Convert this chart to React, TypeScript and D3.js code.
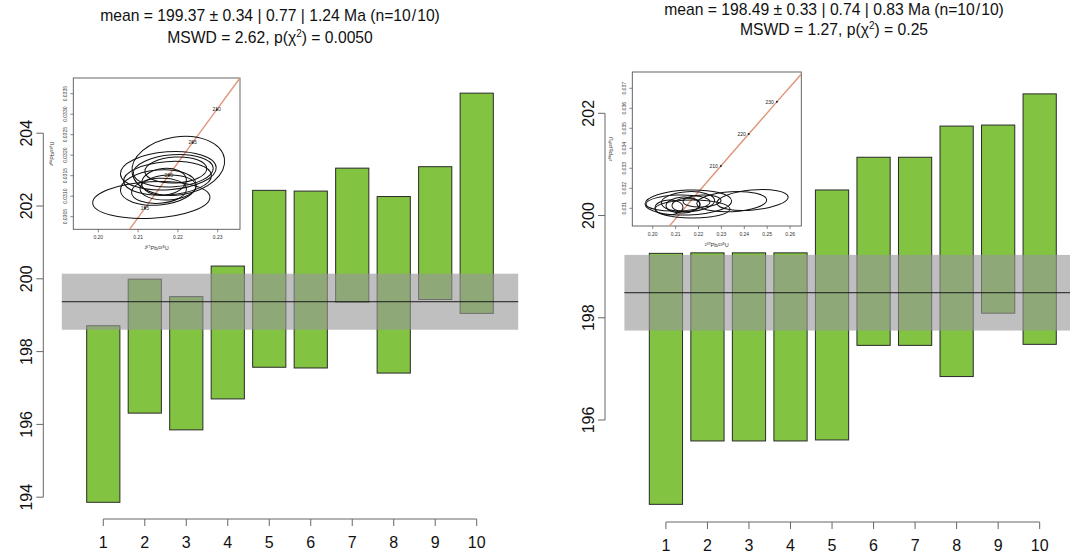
import React from 'react';
import * as d3 from 'd3';

const W = 1070;
const H = 556;

const grains = [1, 2, 3, 4, 5, 6, 7, 8, 9, 10];

// left panel: upper / lower limit of each age bar (Ma)
const leftHi = [198.71, 199.99, 199.51, 200.35, 202.43, 202.41, 203.04, 202.26, 203.08, 205.1];
const leftLo = [193.86, 196.31, 195.85, 196.7, 197.57, 197.55, 199.36, 197.41, 199.43, 199.05];
const leftMean = 199.37;
const leftBand = 0.77;
const leftYTicks = [194, 196, 198, 200, 202, 204];
const leftStats = ['199.37', '0.34', '0.77', '1.24'];
const leftMswd = ['2.62', '0.0050'];

// right panel
const rightHi = [199.26, 199.27, 199.27, 199.27, 200.5, 201.14, 201.14, 201.75, 201.77, 202.38];
const rightLo = [194.35, 195.59, 195.59, 195.59, 195.61, 197.46, 197.46, 196.85, 198.09, 197.48];
const rightMean = 198.49;
const rightBand = 0.74;
const rightYTicks = [196, 198, 200, 202];
const rightStats = ['198.49', '0.33', '0.74', '0.83'];
const rightMswd = ['1.27', '0.25'];

// concordia nodes (age Ma, 207Pb/235U, 206Pb/238U)
const concAge = [185, 190, 195, 200, 205, 210, 215, 220, 225, 230, 235, 240, 245];
const concX = [0.19985, 0.20577, 0.21173, 0.21771, 0.22372, 0.22976, 0.23583, 0.24193, 0.24806, 0.25422, 0.26041, 0.26664, 0.27289];
const concY = [0.029114, 0.029912, 0.030711, 0.031511, 0.032312, 0.033112, 0.033914, 0.034717, 0.035519, 0.036323, 0.037127, 0.037932, 0.038737];

// inset error ellipses, left
const leftEllCx = [0.21332, 0.2201, 0.21759, 0.21884, 0.21947, 0.21508, 0.21525, 0.21651, 0.21739, 0.21751];
const leftEllCy = [0.030907, 0.031741, 0.03162, 0.03162, 0.031639, 0.031212, 0.031132, 0.031354, 0.031437, 0.031212];
const leftEllRx = [0.01475, 0.01173, 0.01206, 0.01005, 0.00779, 0.00955, 0.00691, 0.00565, 0.01106, 0.00704];
const leftEllRy = [0.000446, 0.000707, 0.000463, 0.00039, 0.000317, 0.000427, 0.000305, 0.000324, 0.000407, 0.000305];
const leftEllRot = [-3, -9, -4, -4, -3, -5, -4, -6, -4, -3];
const leftInsetXTicks = [0.2, 0.21, 0.22, 0.23];
const leftInsetYTicks = [0.0305, 0.031, 0.0315, 0.032, 0.0325, 0.033, 0.0335];
const leftAgeLabels = [195, 200, 205, 210];

// inset error ellipses, right
const rightEllCx = [0.24358, 0.21555, 0.21738, 0.21541, 0.21454, 0.21323, 0.20712, 0.2345, 0.22153, 0.21105];
const rightEllCy = [0.031415, 0.03129, 0.030965, 0.03133, 0.031165, 0.031165, 0.03104, 0.03133, 0.031365, 0.031265];
const rightEllRx = [0.01563, 0.01891, 0.01638, 0.01166, 0.00611, 0.00742, 0.00611, 0.01528, 0.0083, 0.01397];
const rightEllRy = [0.0005, 0.000625, 0.00045, 0.0005, 0.000335, 0.0004, 0.000375, 0.0005, 0.0003, 0.0004];
const rightEllRot = [-5, -2, 0, -3, -3, -3, -2, -3, -2, -2];
const rightInsetXTicks = [0.2, 0.21, 0.22, 0.23, 0.24, 0.25, 0.26];
const rightInsetYTicks = [0.031, 0.032, 0.033, 0.034, 0.035, 0.036, 0.037];
const rightAgeLabels = [210, 220, 230];

const FONT = 'Liberation Sans, Arial, sans-serif';
const GREEN = '#82c341';

function Inset({ id, box, xDom, xRng, yDom, yRng, xTicks, yTicks, xFmt, yFmt, ell, ages, labelMode }) {
  const xs = d3.scaleLinear().domain(xDom).range(xRng);
  const ys = d3.scaleLinear().domain(yDom).range(yRng);
  const line = d3.line<number>().x((i) => xs(concX[i])).y((i) => ys(concY[i]));
  const idx = concAge.map((_, i) => i);
  const cx = (box.x0 + box.x1) / 2;
  const cy = (box.y0 + box.y1) / 2;
  return (
    <g fontFamily={FONT}>
      <defs>
        <clipPath id={id}>
          <rect x={box.x0} y={box.y0} width={box.x1 - box.x0} height={box.y1 - box.y0} />
        </clipPath>
      </defs>
      <rect x={box.x0} y={box.y0} width={box.x1 - box.x0} height={box.y1 - box.y0} fill="#fff" stroke="#555" strokeWidth={0.9} />
      <g clipPath={`url(#${id})`}>
        <path d={line(idx) || ''} fill="none" stroke="#e0947a" strokeWidth={1.4} />
        {ell.cx.map((v, i) => {
          const px = xs(v);
          const py = ys(ell.cy[i]);
          const rx = xs(v + ell.rx[i]) - px;
          const ry = py - ys(ell.cy[i] + ell.ry[i]);
          return (
            <ellipse key={i} cx={px} cy={py} rx={rx} ry={ry} fill="none" stroke="#111" strokeWidth={1}
              transform={`rotate(${ell.rot[i]},${px},${py})`} />
          );
        })}
        {ages.map((a) => {
          const i = concAge.indexOf(a);
          const px = xs(concX[i]);
          const py = ys(concY[i]);
          return (
            <g key={a}>
              <circle cx={px} cy={py} r={1} fill="#222" />
              <text x={labelMode === 'center' ? px : px - 3} y={py + 1.8} fontSize={5} fill="#222"
                textAnchor={labelMode === 'center' ? 'middle' : 'end'}>{a}</text>
            </g>
          );
        })}
      </g>
      {xTicks.map((t) => (
        <g key={t}>
          <line x1={xs(t)} x2={xs(t)} y1={box.y1} y2={box.y1 + 3} stroke="#555" strokeWidth={0.7} />
          <text x={xs(t)} y={box.y1 + 10} fontSize={5} textAnchor="middle" fill="#333">{xFmt(t)}</text>
        </g>
      ))}
      {yTicks.map((t) => (
        <g key={t}>
          <line x1={box.x0 - 3} x2={box.x0} y1={ys(t)} y2={ys(t)} stroke="#555" strokeWidth={0.7} />
          <text transform={`translate(${box.x0 - 6},${ys(t)}) rotate(-90)`} fontSize={5} textAnchor="middle" fill="#333">{yFmt(t)}</text>
        </g>
      ))}
      <text x={cx} y={box.y1 + 21} fontSize={5.5} textAnchor="middle" fill="#333">²⁰⁷Pb/²³⁵U</text>
      <text transform={`translate(${box.x0 - 19},${cy}) rotate(-90)`} fontSize={5.5} textAnchor="middle" fill="#333">²⁰⁶Pb/²³⁸U</text>
    </g>
  );
}

function Panel({ hi, lo, mean, band, yTicks, xRange, yDomain, yRange, yAxisX, xAxisY, titleX, titleY, stats, mswd, children }) {
  const x = d3.scaleLinear().domain([0, 11]).range(xRange);
  const y = d3.scaleLinear().domain(yDomain).range(yRange);
  const bw = x(0.8) - x(0);
  return (
    <g fontFamily={FONT}>
      <text x={titleX} y={titleY[0]} fontSize={15.7} textAnchor="middle" fill="#111">
        {`mean = ${stats[0]} ± ${stats[1]} | ${stats[2]} | ${stats[3]} Ma (n=10`}
        <tspan dx={1}>/</tspan>
        <tspan dx={1}>10)</tspan>
      </text>
      <text x={titleX} y={titleY[1]} fontSize={15.7} textAnchor="middle" fill="#111">
        {`MSWD = ${mswd[0]}, p(χ`}
        <tspan dy={-6} fontSize={10}>2</tspan>
        <tspan dy={6}>{`) = ${mswd[1]}`}</tspan>
      </text>

      {grains.map((g, i) => (
        <rect key={g} x={x(g) - bw / 2} y={y(hi[i])} width={bw} height={y(lo[i]) - y(hi[i])}
          fill={GREEN} stroke="#2a2a2a" strokeWidth={1} />
      ))}
      <rect x={x(0)} y={y(mean + band)} width={x(11) - x(0)} height={y(mean - band) - y(mean + band)}
        fill="rgb(151,151,154)" fillOpacity={0.62} />
      <line x1={x(0)} x2={x(11)} y1={y(mean)} y2={y(mean)} stroke="#1a1a1a" strokeWidth={1} />

      <line x1={yAxisX} x2={yAxisX} y1={y(yTicks[0])} y2={y(yTicks[yTicks.length - 1])} stroke="#666" strokeWidth={1} />
      {yTicks.map((t) => (
        <g key={t}>
          <line x1={yAxisX - 7} x2={yAxisX} y1={y(t)} y2={y(t)} stroke="#666" strokeWidth={1} />
          <text transform={`translate(${yAxisX - 11},${y(t)}) rotate(-90)`} fontSize={16} textAnchor="middle" fill="#111">{t}</text>
        </g>
      ))}

      <line x1={x(1)} x2={x(10)} y1={xAxisY} y2={xAxisY} stroke="#666" strokeWidth={1} />
      {grains.map((g) => (
        <g key={g}>
          <line x1={x(g)} x2={x(g)} y1={xAxisY} y2={xAxisY + 7} stroke="#666" strokeWidth={1} />
          <text x={x(g)} y={xAxisY + 29} fontSize={16} textAnchor="middle" fill="#111">{g}</text>
        </g>
      ))}
      {children}
    </g>
  );
}

export default function App() {
  const f2 = (v: number) => v.toFixed(2);
  const f3 = (v: number) => v.toFixed(3);
  const f4 = (v: number) => v.toFixed(4);
  return (
    <svg width={W} height={H} style={{ position: 'absolute', left: 0, top: 0, background: '#fff' }}>
      <rect width={W} height={H} fill="#fff" />
      <Panel hi={leftHi} lo={leftLo} mean={leftMean} band={leftBand} yTicks={leftYTicks}
        xRange={[61.8, 518.2]} yDomain={[194, 204]} yRange={[497.2, 133.2]} yAxisX={43.3} xAxisY={519}
        titleX={270} titleY={[21, 43]} stats={leftStats} mswd={leftMswd}>
        <Inset id="clipL" box={{ x0: 73.3, x1: 240, y0: 78, y1: 229.3 }}
          xDom={[0.2, 0.23]} xRng={[98.3, 217.7]} yDom={[0.0305, 0.0335]} yRng={[216.7, 93.7]}
          xTicks={leftInsetXTicks} yTicks={leftInsetYTicks} xFmt={f2} yFmt={f4}
          ell={{ cx: leftEllCx, cy: leftEllCy, rx: leftEllRx, ry: leftEllRy, rot: leftEllRot }}
          ages={leftAgeLabels} labelMode="center" />
      </Panel>
      <Panel hi={rightHi} lo={rightLo} mean={rightMean} band={rightBand} yTicks={rightYTicks}
        xRange={[624.4, 1081.2]} yDomain={[196, 202]} yRange={[420, 113.3]} yAxisX={605} xAxisY={522}
        titleX={834} titleY={[15, 35]} stats={rightStats} mswd={rightMswd}>
        <Inset id="clipR" box={{ x0: 632.3, x1: 801.3, y0: 72, y1: 226 }}
          xDom={[0.2, 0.26]} xRng={[652.7, 790.1]} yDom={[0.031, 0.037]} yRng={[208.3, 88.3]}
          xTicks={rightInsetXTicks} yTicks={rightInsetYTicks} xFmt={f2} yFmt={f3}
          ell={{ cx: rightEllCx, cy: rightEllCy, rx: rightEllRx, ry: rightEllRy, rot: rightEllRot }}
          ages={rightAgeLabels} labelMode="left" />
      </Panel>
    </svg>
  );
}
